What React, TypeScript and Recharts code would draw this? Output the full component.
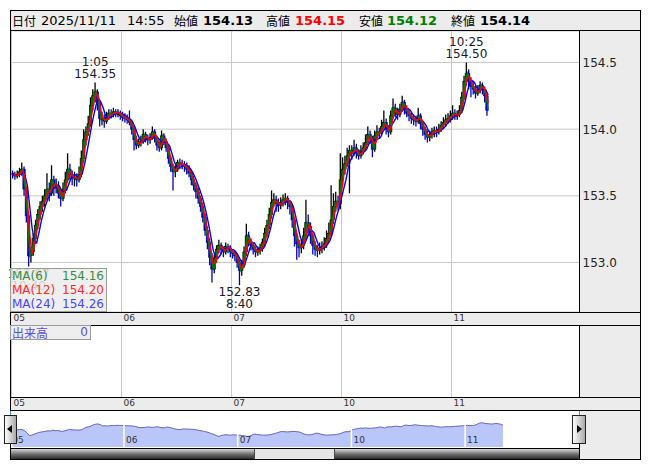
import React from 'react';
import { ComposedChart, Bar, Line, Area, XAxis, YAxis, CartesianGrid, ReferenceDot, ReferenceLine } from 'recharts';

// ---- data: 30-minute candles [open, high, low, close], each day starts 7:00 JST ----
const day05: number[][] = [
  [153.67,153.69,153.63,153.66],[153.66,153.68,153.62,153.65],[153.65,153.69,153.63,153.66],[153.66,153.71,153.64,153.68],
  [153.68,153.75,153.65,153.70],[153.70,153.72,153.50,153.55],[153.55,153.57,153.30,153.35],[153.35,153.38,152.97,153.05],
  [153.05,153.12,153.00,153.08],[153.08,153.22,153.05,153.18],[153.18,153.32,153.14,153.28],[153.28,153.40,153.25,153.36],
  [153.36,153.46,153.32,153.42],[153.42,153.50,153.38,153.46],[153.46,153.55,153.42,153.50],[153.50,153.67,153.47,153.55],
  [153.55,153.60,153.46,153.52],[153.52,153.73,153.50,153.62],[153.62,153.65,153.50,153.56],[153.56,153.63,153.52,153.58],
  [153.58,153.61,153.48,153.52],[153.52,153.55,153.42,153.48],[153.48,153.60,153.46,153.55],[153.55,153.68,153.52,153.62],
  [153.62,153.82,153.60,153.70],[153.70,153.74,153.62,153.66],[153.66,153.69,153.58,153.63],[153.63,153.68,153.57,153.64],
  [153.64,153.67,153.57,153.62],[153.62,153.72,153.60,153.66],[153.66,153.84,153.64,153.78],[153.78,154.00,153.75,153.92],
  [153.92,154.02,153.88,153.98],[153.98,154.10,153.95,154.04],[154.04,154.24,154.02,154.18],[154.18,154.30,154.14,154.25],
  [154.25,154.35,154.20,154.28],[154.28,154.30,154.14,154.20],[154.20,154.22,154.02,154.08],[154.08,154.13,154.03,154.08],
  [154.08,154.11,154.01,154.06],[154.06,154.13,154.04,154.09],[154.09,154.15,154.07,154.12],[154.12,154.15,154.08,154.11],
  [154.11,154.16,154.09,154.13],[154.13,154.15,154.09,154.12],[154.12,154.15,154.09,154.12],[154.12,154.14,154.07,154.10],
];
const day06: number[][] = [
  [154.10,154.13,154.06,154.09],[154.09,154.12,154.05,154.08],[154.08,154.11,154.04,154.07],[154.07,154.14,154.03,154.05],
  [154.05,154.07,153.96,154.00],[154.00,154.02,153.84,153.92],[153.92,153.95,153.85,153.88],[153.88,153.93,153.86,153.90],
  [153.90,153.95,153.87,153.91],[153.91,154.00,153.89,153.96],[153.96,153.98,153.90,153.93],[153.93,153.96,153.88,153.92],
  [153.92,153.97,153.89,153.94],[153.94,154.02,153.92,153.98],[153.98,154.00,153.90,153.93],[153.93,153.95,153.84,153.88],
  [153.88,153.91,153.83,153.86],[153.86,153.99,153.84,153.95],[153.95,153.97,153.88,153.91],[153.91,153.93,153.83,153.86],
  [153.86,153.88,153.74,153.78],[153.78,153.80,153.68,153.72],[153.72,153.74,153.54,153.68],[153.68,153.73,153.64,153.70],
  [153.70,153.77,153.68,153.75],[153.75,153.78,153.70,153.74],[153.74,153.77,153.70,153.73],[153.73,153.76,153.68,153.72],
  [153.72,153.75,153.66,153.70],[153.70,153.73,153.64,153.67],[153.67,153.69,153.58,153.62],[153.62,153.65,153.54,153.58],
  [153.58,153.60,153.48,153.53],[153.53,153.56,153.44,153.48],[153.48,153.50,153.38,153.42],[153.42,153.45,153.30,153.34],
  [153.34,153.37,153.20,153.24],[153.24,153.27,153.10,153.15],[153.15,153.18,152.98,153.04],[153.04,153.07,152.85,152.95],
  [152.95,153.06,152.92,153.03],[153.03,153.13,153.00,153.10],[153.10,153.17,153.07,153.13],[153.13,153.15,153.06,153.10],
  [153.10,153.12,153.04,153.08],[153.08,153.15,153.06,153.12],[153.12,153.14,153.07,153.11],[153.11,153.13,153.04,153.08],
];
const day07: number[][] = [
  [153.08,153.10,153.03,153.07],[153.07,153.09,153.01,153.05],[153.05,153.07,152.96,153.00],[153.00,153.02,152.83,152.94],
  [152.94,153.02,152.90,152.98],[152.98,153.12,152.96,153.08],[153.08,153.29,153.05,153.20],[153.20,153.23,153.12,153.16],
  [153.16,153.18,153.09,153.13],[153.13,153.15,153.06,153.10],[153.10,153.12,153.04,153.08],[153.08,153.12,153.05,153.09],
  [153.09,153.14,153.06,153.11],[153.11,153.18,153.08,153.15],[153.15,153.26,153.12,153.22],[153.22,153.32,153.19,153.28],
  [153.28,153.41,153.25,153.36],[153.36,153.54,153.33,153.45],[153.45,153.52,153.42,153.47],[153.47,153.50,153.38,153.44],
  [153.44,153.48,153.38,153.43],[153.43,153.49,153.40,153.45],[153.45,153.51,153.42,153.47],[153.47,153.52,153.43,153.48],
  [153.48,153.50,153.40,153.45],[153.45,153.47,153.36,153.42],[153.42,153.44,153.26,153.32],[153.32,153.34,153.12,153.20],
  [153.20,153.22,153.02,153.14],[153.14,153.17,153.04,153.11],[153.11,153.17,153.07,153.13],[153.13,153.26,153.10,153.20],
  [153.20,153.47,153.17,153.30],[153.30,153.36,153.22,153.27],[153.27,153.30,153.14,153.20],[153.20,153.22,153.06,153.13],
  [153.13,153.16,153.05,153.10],[153.10,153.13,153.04,153.09],[153.09,153.15,153.06,153.11],[153.11,153.16,153.07,153.12],
  [153.12,153.19,153.09,153.14],[153.14,153.24,153.11,153.18],[153.18,153.30,153.15,153.22],[153.22,153.58,153.20,153.32],
  [153.32,153.52,153.29,153.42],[153.42,153.53,153.38,153.46],[153.46,153.50,153.39,153.44],[153.44,153.82,153.40,153.62],
];
const day10: number[][] = [
  [153.62,153.79,153.58,153.70],[153.70,153.80,153.66,153.74],[153.74,153.86,153.72,153.80],[153.80,153.88,153.52,153.84],
  [153.84,153.88,153.77,153.82],[153.82,153.92,153.80,153.86],[153.86,153.89,153.78,153.82],[153.82,153.85,153.77,153.80],
  [153.80,153.88,153.78,153.84],[153.84,153.90,153.81,153.86],[153.86,153.96,153.84,153.90],[153.90,154.02,153.88,153.96],
  [153.96,153.99,153.89,153.93],[153.93,153.95,153.79,153.85],[153.85,153.99,153.83,153.95],[153.95,154.03,153.93,153.98],
  [153.98,154.01,153.93,153.97],[153.97,154.07,153.95,154.02],[154.02,154.14,154.00,154.05],[154.05,154.08,153.96,154.00],
  [154.00,154.03,153.94,153.98],[153.98,154.14,153.96,154.10],[154.10,154.23,154.08,154.16],[154.16,154.19,154.09,154.12],
  [154.12,154.16,154.07,154.11],[154.11,154.19,154.09,154.15],[154.15,154.25,154.13,154.20],[154.20,154.22,154.11,154.15],
  [154.15,154.18,154.09,154.12],[154.12,154.15,154.06,154.10],[154.10,154.13,154.04,154.08],[154.08,154.11,154.03,154.07],
  [154.07,154.10,154.02,154.06],[154.06,154.16,154.04,154.10],[154.10,154.12,154.00,154.04],[154.04,154.06,153.95,154.00],
  [154.00,154.02,153.92,153.96],[153.96,153.99,153.90,153.94],[153.94,153.99,153.91,153.96],[153.96,154.01,153.93,153.98],
  [153.98,154.02,153.94,153.99],[153.99,154.02,153.94,153.98],[153.98,154.04,153.96,154.00],[154.00,154.06,153.98,154.03],
  [154.03,154.09,154.00,154.05],[154.05,154.11,154.02,154.07],[154.07,154.12,154.04,154.08],[154.08,154.14,154.05,154.10],
];
const day11: number[][] = [
  [154.10,154.18,154.07,154.12],[154.12,154.15,154.07,154.10],[154.10,154.14,154.07,154.11],[154.11,154.18,154.09,154.14],
  [154.14,154.28,154.12,154.24],[154.24,154.40,154.22,154.36],[154.36,154.50,154.33,154.42],[154.42,154.45,154.30,154.36],
  [154.36,154.39,154.24,154.32],[154.32,154.36,154.26,154.30],[154.30,154.33,154.23,154.27],[154.27,154.33,154.25,154.29],
  [154.29,154.36,154.27,154.33],[154.33,154.35,154.26,154.30],[154.30,154.32,154.20,154.25],[154.25,154.27,154.10,154.14],
];

const dayLabels = ['05', '06', '07', '10', '11'];
const priceTicks = [153.0, 153.5, 154.0, 154.5];
const maPeriods = [6, 12, 24];            // in 5-minute bars
const maColors = ['#008000', '#ff0000', '#0000ff'];
const maLegendColors = ['#3c8a3c', '#ff2a2a', '#4646ff'];
const maLegendValues = ['154.16', '154.20', '154.26'];
const headerDate = '2025/11/11';
const headerTime = '14:55';
const quoteLabels = ['始値', '高値', '安値', '終値'];
const quoteValues = ['154.13', '154.15', '154.12', '154.14'];
const quoteColors = ['#000000', '#ff0000', '#008000', '#000000'];
const extremes = [
  { i: 7, price: 152.97, time: '10:40', kind: 'low' },
  { i: 36, price: 154.35, time: '1:05', kind: 'high' },
  { i: 99, price: 152.83, time: '8:40', kind: 'low' },
  { i: 198, price: 154.50, time: '10:25', kind: 'high' },
];
const volumeLabel = '出来高';
const volumeValue = '0';

// ---- derived ----
const PER_DAY = 48;
const CANDLE_MIN = 30;
const days = [day05, day06, day07, day10, day11];
const flat = days.flat();
const closes = flat.map((q) => q[3]);
const movingAverage = (period: number) => {
  const w = Math.max(1, Math.round((period * 5) / CANDLE_MIN));
  return closes.map((_, i) => {
    const s = closes.slice(Math.max(0, i - w + 1), i + 1);
    return s.reduce((a, b) => a + b, 0) / s.length;
  });
};
const mas = maPeriods.map(movingAverage);
const candles = flat.map((q, i) => ({ x: i + 0.5, o: q[0], h: q[1], l: q[2], c: q[3] }));
// moving averages are stamped at the candle's close time
const maData = flat.map((_, i) => ({ x: i + 1, ma0: mas[0][i], ma1: mas[1][i], ma2: mas[2][i] }));
const navData = flat.map((q, i) => ({ x: i + 1, c: q[3] }));
const dayTicks = dayLabels.map((_, k) => k * PER_DAY);
const labelOf = (v: number) => dayLabels[Math.round(v / PER_DAY)] ?? '';

const FONT = '"DejaVu Sans", "Noto Sans CJK JP", sans-serif';
const CJK = '"Noto Sans CJK JP", sans-serif';
const GRAY = '#ececec';

const Candle = (p: any) => {
  const { x, y, width, height, payload } = p;
  if (!payload || height == null || isNaN(y)) return null;
  const top = Math.min(y, y + height);
  const hgt = Math.abs(height);
  const cx = x + width / 2;
  const { o, h, l, c } = payload;
  const py = (v: number) => top + ((h - v) / (h - l)) * hgt;
  const up = c >= o;
  const bt = py(Math.max(o, c));
  const bb = py(Math.min(o, c));
  return (
    <g>
      <line x1={cx} x2={cx} y1={top} y2={top + hgt} stroke={up ? '#000000' : '#0000c0'} strokeWidth={1.3} />
      <rect x={cx - 1.2} y={bt} width={2.4} height={Math.max(1.5, bb - bt)}
        fill={up ? '#006400' : '#0000c0'} stroke={up ? '#000000' : '#0000c0'} strokeWidth={0.6} />
    </g>
  );
};

const XTick = (p: any) => (
  <text x={p.x + 2} y={p.y + 9} fontSize={9} fontFamily={FONT} fill="#333">{labelOf(p.payload.value)}</text>
);
const NavTick = (p: any) => (
  <text x={p.x + 2} y={p.y - 4} fontSize={9} fontFamily={FONT} fill="#333">{labelOf(p.payload.value)}</text>
);
const YTick = (p: any) => (
  <text x={p.x} y={p.y} dy={4.5} fontSize={12} fontFamily={FONT} fill="#222" textAnchor="start">
    {Number(p.payload.value).toFixed(1)}
  </text>
);

const extremeShape = (e: { price: number; time: string; kind: string }) => (p: any) => {
  const { cx, cy } = p;
  const high = e.kind === 'high';
  return (
    <g fontFamily={FONT} fontSize={12} fill="#201828" textAnchor="middle">
      <text x={cx} y={high ? cy - 16 : cy + 11}>{high ? e.time : e.price.toFixed(2)}</text>
      <text x={cx} y={high ? cy - 4 : cy + 23}>{high ? e.price.toFixed(2) : e.time}</text>
    </g>
  );
};

const box = (l: number, t: number, w: number, h: number, style: React.CSSProperties = {}) => (
  <div style={{ position: 'absolute', left: l, top: t, width: w, height: h, ...style }} />
);

export default function App() {
  return (
    <div style={{ position: 'absolute', left: 0, top: 0, width: 653, height: 470, background: '#fff', fontFamily: FONT, overflow: 'hidden' }}>
      {/* backgrounds */}
      {box(11, 11, 629, 19, { background: GRAY })}
      {box(580, 31, 60, 281, { background: GRAY })}
      {box(11, 313, 629, 12, { background: GRAY })}
      {box(580, 326, 60, 71, { background: GRAY })}
      {box(11, 398, 629, 12, { background: GRAY })}
      {box(580, 411, 60, 48, { background: GRAY })}

      {/* header */}
      <div style={{ position: 'absolute', left: 0, top: 11, height: 19, width: 640, fontSize: 13, lineHeight: '19px', whiteSpace: 'nowrap' }}>
        <span style={{ position: 'absolute', left: 12, fontFamily: CJK, fontSize: 12 }}>日付</span>
        <span style={{ position: 'absolute', left: 41 }}>{headerDate}</span>
        <span style={{ position: 'absolute', left: 127 }}>{headerTime}</span>
        {quoteLabels.map((q, k) => (
          <span key={q} style={{ position: 'absolute', left: [174, 266, 359, 451][k], fontFamily: CJK, fontSize: 12 }}>{q}</span>
        ))}
        {quoteValues.map((v, k) => (
          <span key={k} style={{ position: 'absolute', left: [203, 295, 387, 480][k], fontWeight: 'bold', color: quoteColors[k] }}>{v}</span>
        ))}
      </div>

      {/* main price chart */}
      <div style={{ position: 'absolute', left: 0, top: 31, width: 640, height: 294 }}>
        <ComposedChart width={640} height={294} data={candles} margin={{ top: 0, right: 0, bottom: 0, left: 11.5 }}>
          <CartesianGrid stroke="#c8c8c8" strokeWidth={1} />
          <XAxis dataKey="x" type="number" domain={[0, 247.85]} allowDataOverflow ticks={dayTicks} interval={0}
            height={13} axisLine={false} tickLine={false} tickSize={0} tickMargin={0} tick={XTick} />
          <YAxis orientation="right" type="number" domain={[152.629, 154.736]} allowDataOverflow ticks={priceTicks}
            interval={0} width={60.5} axisLine={false} tickLine={false} tickSize={0} tickMargin={3} tick={YTick} />
          <Bar dataKey={(d: any) => [d.l, d.h]} shape={Candle} barSize={2} isAnimationActive={false} />
          <Line data={maData} dataKey="ma0" type="linear" stroke={maColors[0]} strokeWidth={1.3} dot={false} isAnimationActive={false} />
          <Line data={maData} dataKey="ma2" type="linear" stroke={maColors[2]} strokeWidth={1.4} dot={false} isAnimationActive={false} />
          <Line data={maData} dataKey="ma1" type="linear" stroke={maColors[1]} strokeWidth={1.5} dot={false} isAnimationActive={false} />
          {extremes.map((e) => (
            <ReferenceDot key={e.i} x={e.i + 0.5} y={e.price} r={0} ifOverflow="visible" shape={extremeShape(e)} />
          ))}
        </ComposedChart>
      </div>

      {/* volume panel */}
      <div style={{ position: 'absolute', left: 0, top: 326, width: 640, height: 84 }}>
        <ComposedChart width={640} height={84} data={candles} margin={{ top: 0, right: 60.5, bottom: 0, left: 11.5 }}>
          <CartesianGrid stroke="#c8c8c8" horizontal={false} />
          <XAxis dataKey="x" type="number" domain={[0, 247.85]} allowDataOverflow ticks={dayTicks} interval={0}
            height={13} axisLine={false} tickLine={false} tickSize={0} tickMargin={0} tick={XTick} />
          <YAxis hide domain={[0, 1]} />
        </ComposedChart>
      </div>

      {/* navigator */}
      <div style={{ position: 'absolute', left: 0, top: 411, width: 640, height: 37 }}>
        <ComposedChart width={640} height={37} data={navData} margin={{ top: 0, right: 60, bottom: 0, left: 10.3 }}>
          <YAxis hide type="number" domain={[151.82, 155.66]} allowDataOverflow />
          <Area dataKey="c" type="linear" stroke="#6464b8" strokeWidth={1} fill="#b9c6f7" fillOpacity={1} isAnimationActive={false} />
          {dayTicks.slice(1).map((t) => (
            <ReferenceLine key={t} x={t} stroke="#ffffff" strokeWidth={1.5} />
          ))}
          <XAxis dataKey="x" type="number" domain={[0, 240.5]} allowDataOverflow ticks={dayTicks} interval={0}
            height={1} axisLine={false} tickLine={false} tickSize={0} tickMargin={0} tick={NavTick} />
        </ComposedChart>
      </div>

      {/* scrollbar */}
      {box(11, 449, 243, 10, { background: 'linear-gradient(#d6d6d6, #6a6a6a 55%, #2a2a2a)' })}
      {box(254, 449, 81, 10, { background: '#e6e6e6', borderLeft: '1px solid #444', borderRight: '1px solid #444', boxSizing: 'border-box' })}
      {box(335, 449, 244, 10, { background: 'linear-gradient(#d6d6d6, #6a6a6a 55%, #2a2a2a)' })}

      {/* frame lines */}
      {box(10, 10, 631, 1, { background: '#000' })}
      {box(10, 10, 1, 450, { background: '#000' })}
      {box(640, 10, 1, 450, { background: '#000' })}
      {box(10, 459, 631, 1, { background: '#000' })}
      {box(10, 30, 631, 1, { background: '#000' })}
      {box(10, 312, 631, 1, { background: '#000' })}
      {box(10, 325, 631, 1, { background: '#000' })}
      {box(10, 397, 631, 1, { background: '#000' })}
      {box(10, 410, 631, 1, { background: '#000' })}
      {box(10, 448, 570, 1, { background: '#000' })}
      {box(579, 31, 1, 281, { background: '#000' })}
      {box(579, 326, 1, 71, { background: '#000' })}
      {box(579, 411, 1, 48, { background: '#000' })}
      {box(10, 411, 1, 4, { background: '#3399ff' })}
      {box(579, 411, 1, 4, { background: '#3399ff' })}

      {/* MA legend */}
      <div style={{ position: 'absolute', left: 10, top: 268, width: 97, height: 44, boxSizing: 'border-box', border: '1px solid #9a9a9a', background: 'rgba(236,236,236,0.86)', fontSize: 12, lineHeight: '14px' }}>
        {maPeriods.map((p, k) => (
          <div key={p} style={{ position: 'relative', height: 14, color: maLegendColors[k] }}>
            <span style={{ position: 'absolute', left: 1 }}>MA({p})</span>
            <span style={{ position: 'absolute', right: 2 }}>{maLegendValues[k]}</span>
          </div>
        ))}
      </div>

      {/* volume legend */}
      <div style={{ position: 'absolute', left: 10, top: 325, width: 81, height: 15, boxSizing: 'border-box', border: '1px solid #9a9a9a', background: '#eeeeee', color: '#5a50d0', fontSize: 12, lineHeight: '13px' }}>
        <span style={{ position: 'absolute', left: 1, fontFamily: CJK }}>{volumeLabel}</span>
        <span style={{ position: 'absolute', right: 2 }}>{volumeValue}</span>
      </div>

      {/* navigator buttons */}
      <div style={{ position: 'absolute', left: 4, top: 415, width: 13, height: 29, boxSizing: 'border-box', border: '1px solid #222', background: 'linear-gradient(to right, #ffffff, #a8a8a8)' }}>
        <div style={{ position: 'absolute', left: 2, top: 9, width: 0, height: 0, borderTop: '4px solid transparent', borderBottom: '4px solid transparent', borderRight: '5px solid #000' }} />
      </div>
      <div style={{ position: 'absolute', left: 572, top: 415, width: 14, height: 29, boxSizing: 'border-box', border: '1px solid #222', background: 'linear-gradient(to right, #ffffff, #a8a8a8)' }}>
        <div style={{ position: 'absolute', left: 4, top: 9, width: 0, height: 0, borderTop: '4px solid transparent', borderBottom: '4px solid transparent', borderLeft: '5px solid #000' }} />
      </div>
    </div>
  );
}
